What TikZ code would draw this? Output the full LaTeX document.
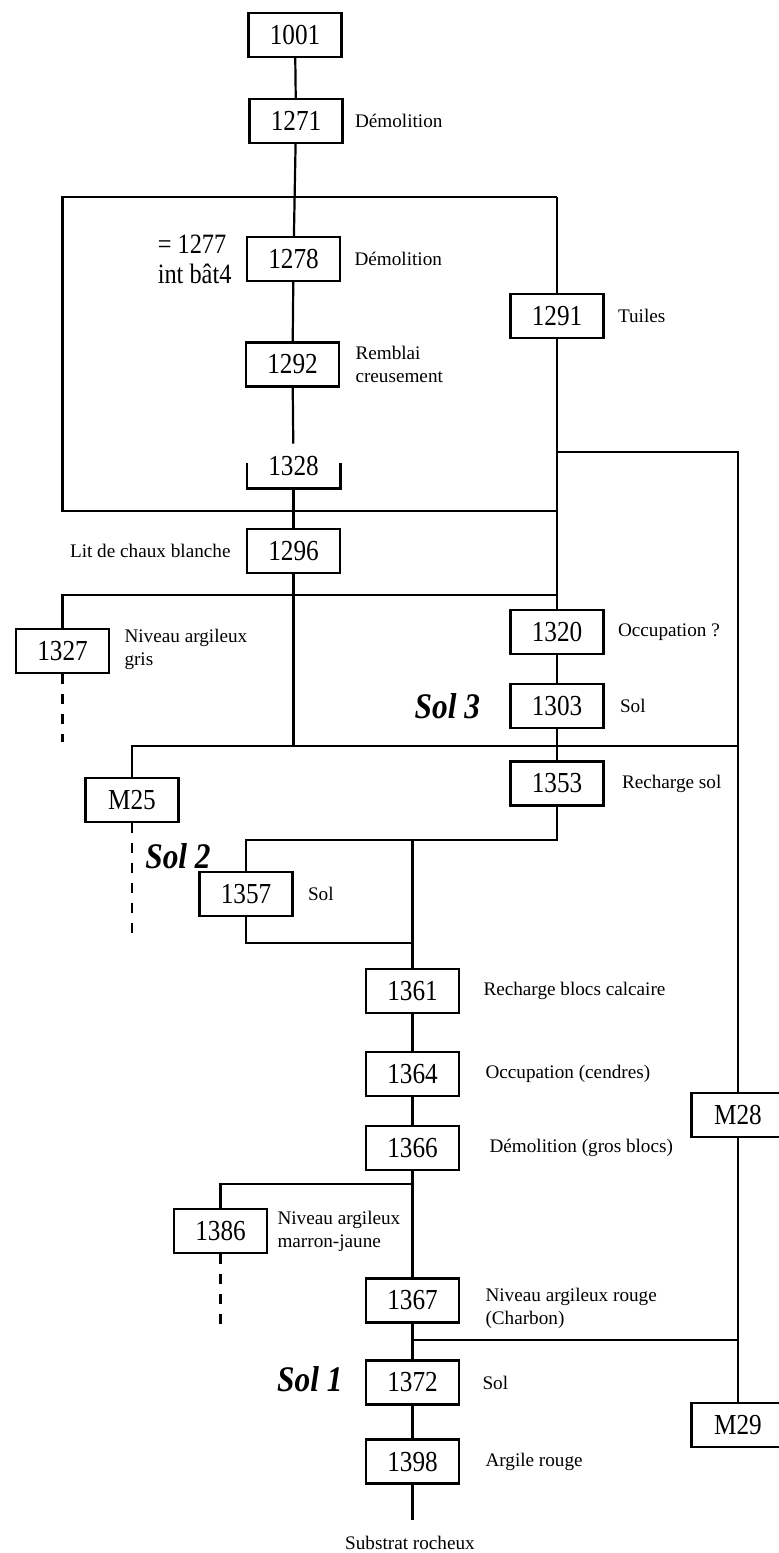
\documentclass[tikz,border=0pt]{standalone}
\usepackage{fontspec}
\setmainfont{Liberation Serif}[FakeStretch=0.87]
\newfontfamily\lblfont{Liberation Serif}
\usepackage{tikz}
\usetikzlibrary{positioning}

\begin{document}
\begin{tikzpicture}[x=0.5pt,y=-0.5pt,
  box/.style={draw,line width=1.1pt,minimum width=46.5pt,minimum height=22pt,inner sep=0pt,font=\fontsize{14.5}{16}\selectfont},
  lbl/.style={align=left,inner sep=0pt,font=\lblfont\fontsize{9.6}{11.5}\selectfont},
  sol/.style={inner sep=0pt,font=\fontsize{18}{20}\selectfont\bfseries\itshape},
  lien/.style={line width=1.1pt},
  tirets/.style={line width=1.1pt,dash pattern=on 5pt off 5pt}]
\useasboundingbox (0,0) rectangle (779,1553);
% boites
\node[box] (n1001) at (295,35) {1001};
\node[box] (n1271) at (296,121) {1271};
\node[box] (n1278) at (293.5,259) {1278};
\node[box] (n1291) at (557,316) {1291};
\node[box] (n1292) at (292.5,364.5) {1292};
\node[minimum width=46.5pt,minimum height=22pt,inner sep=0pt,font=\fontsize{14.5}{16}\selectfont] (n1328) at (293.5,466) {1328};
\node[box] (n1296) at (293.5,551) {1296};
\node[box] (n1327) at (62.5,651) {1327};
\node[box] (n1320) at (557,632) {1320};
\node[box] (n1303) at (557,706) {1303};
\node[box] (n1353) at (557,783.5) {1353};
\node[box] (nM25) at (132,800) {M25};
\node[box] (n1357) at (246,894) {1357};
\node[box] (n1361) at (412.5,991) {1361};
\node[box] (n1364) at (412.5,1074) {1364};
\node[box] (n1366) at (412.5,1148) {1366};
\node[box] (nM28) at (738,1115) {M28};
\node[box] (n1386) at (220.5,1231) {1386};
\node[box] (n1367) at (412.5,1300.5) {1367};
\node[box] (n1372) at (412.5,1382.5) {1372};
\node[box] (nM29) at (738,1425) {M29};
\node[box] (n1398) at (412.5,1461.5) {1398};
% libelles
\node[lbl,right=5.5pt of n1271] {Démolition};
\node[lbl,right=6.5pt of n1278] {Démolition};
\node[lbl,left=7pt of n1278,font=\fontsize{14}{15}\selectfont] {= 1277\\int bât4};
\node[lbl,right=6.5pt of n1291] {Tuiles};
\node[lbl,right=7.5pt of n1292] {Remblai\\creusement};
\node[lbl,left=7.5pt of n1296] {Lit de chaux blanche};
\node[lbl,right=7pt of n1327,yshift=1pt] {Niveau argileux\\gris};
\node[lbl,right=6.5pt of n1320] {Occupation ?};
\node[lbl,right=7.5pt of n1303] {Sol};
\node[sol,left=14.5pt of n1303] {Sol 3};
\node[lbl,right=8.5pt of n1353] {Recharge sol};
\node[sol] (sol2) at (178,856) {Sol 2};
\node[lbl,right=7pt of n1357] {Sol};
\node[lbl,right=11.5pt of n1361] {Recharge blocs calcaire};
\node[lbl,right=12.5pt of n1364] {Occupation (cendres)};
\node[lbl,right=14.5pt of n1366] {Démolition (gros blocs)};
\node[lbl,right=4.5pt of n1386] {Niveau argileux\\marron-jaune};
\node[lbl,right=12.5pt of n1367,yshift=-4pt] {Niveau argileux rouge\\(Charbon)};
\node[sol,left=11pt of n1372,yshift=1.5pt] {Sol 1};
\node[lbl,right=11pt of n1372] {Sol};
\node[lbl,right=12.5pt of n1398] {Argile rouge};
\node[lbl] (substrat) at (410,1543) {Substrat rocheux};
% points de jonction
\coordinate (hg) at (62.5,197);
\coordinate (hd) at (557,197);
\coordinate (bg) at (62.5,511);
\coordinate (bd) at (557,511);
\coordinate (r1) at (557,452);
\coordinate (r2) at (738,452);
\coordinate (a1) at (62.5,595);
\coordinate (a2) at (557,595);
\coordinate (f1327) at (62.5,742);
\coordinate (b1) at (132,746);
\coordinate (b2) at (293.5,746);
\coordinate (b3) at (738,746);
\coordinate (fM25) at (132,937);
\coordinate (c1) at (246,840);
\coordinate (c2) at (412.5,840);
\coordinate (c3) at (557,840);
\coordinate (d1) at (246,943);
\coordinate (d2) at (412.5,943);
\coordinate (e1) at (220.5,1184);
\coordinate (e2) at (412.5,1184);
\coordinate (f1386) at (220.5,1324);
\coordinate (g1) at (412.5,1340);
\coordinate (g2) at (738,1340);
\coordinate (fin) at (412.5,1520);
% liens
\draw[lien] (n1001) -- (n1271);
\draw[lien] (n1271) -- (n1278);
\draw[lien] (hd) -- (hg) -- (bg) -- (bd);
\draw[lien] (hd) -- (n1291);
\draw[lien] (n1291) -- (n1320);
\draw[lien] (n1278) -- (n1292);
\draw[lien] (n1292) -- (n1328);
\draw[lien] ([yshift=12.5pt]n1328.south west) -- (n1328.south west) -- (n1328.south east) -- ([yshift=12.5pt]n1328.south east);
\draw[lien] (n1328.south) -- (n1296);
\draw[lien] (r1) -- (r2) -- (nM28);
\draw[lien] (a2) -- (a1) -- (n1327);
\draw[tirets] (n1327) -- (f1327);
\draw[lien] (n1296) -- (b2);
\draw[lien] (b3) -- (b1) -- (nM25);
\draw[tirets] (nM25) -- (fM25);
\draw[lien] (n1320) -- (n1303);
\draw[lien] (n1303) -- (n1353);
\draw[lien] (n1353) -- (c3) -- (c1) -- (n1357);
\draw[lien] (c2) -- (n1361);
\draw[lien] (n1357) -- (d1) -- (d2);
\draw[lien] (n1361) -- (n1364);
\draw[lien] (n1364) -- (n1366);
\draw[lien] (n1366) -- (n1367);
\draw[lien] (e2) -- (e1) -- (n1386);
\draw[tirets] (n1386) -- (f1386);
\draw[lien] (n1367) -- (n1372);
\draw[lien] (g1) -- (g2);
\draw[lien] (nM28) -- (nM29);
\draw[lien] (n1372) -- (n1398);
\draw[lien] (n1398) -- (fin);
\end{tikzpicture}
\end{document}
